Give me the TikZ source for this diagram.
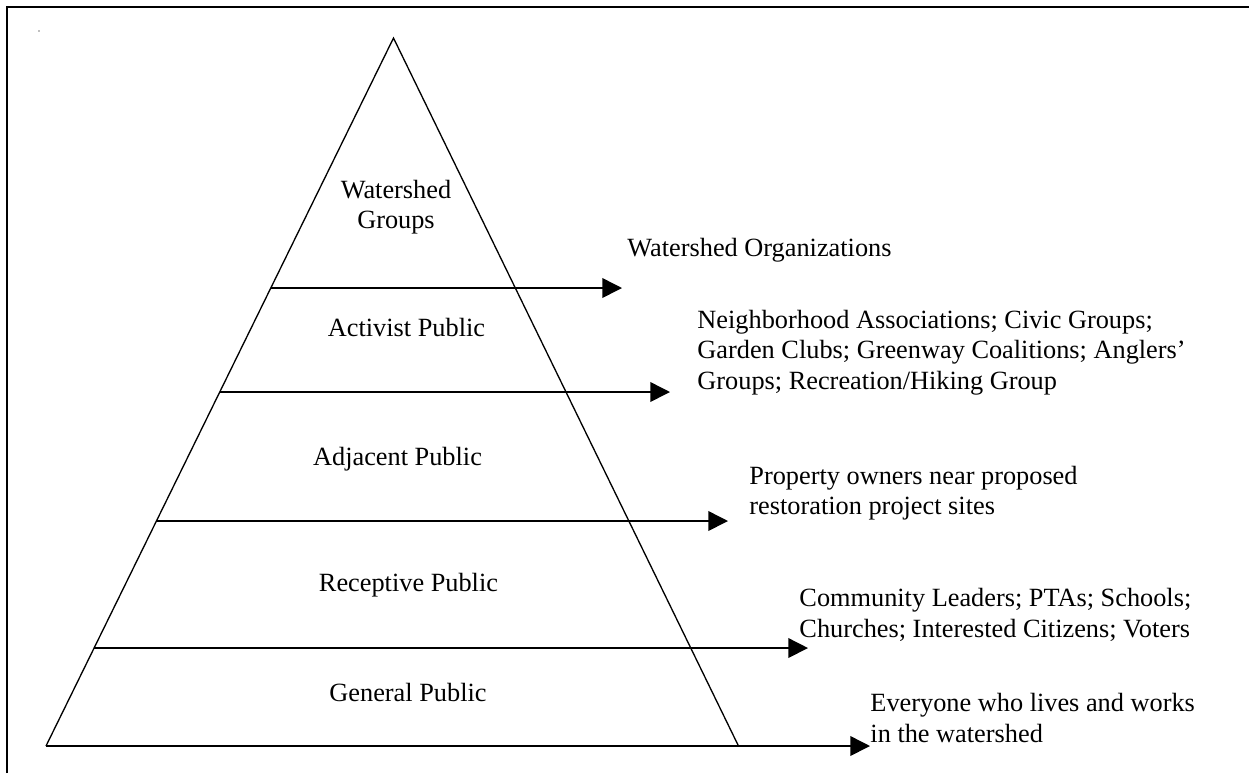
\documentclass[tikz,border=0pt]{standalone}
\usepackage{fontspec}
\setmainfont{Liberation Serif}
\usetikzlibrary{arrows.meta,calc}
\tikzset{
  level/.style={anchor=base,inner sep=0pt},
  group/.style={anchor=base west,inner sep=0pt},
  edge/.style={line width=0.6pt},
  feed/.style={line width=0.7pt,-{Triangle[length=9pt,width=9pt]}}
}
\begin{document}
\begin{tikzpicture}[x=0.456pt,y=-0.456pt,font=\fontsize{12}{13.9}\selectfont]
\useasboundingbox (0,0) rectangle (1249,773);
% frame
\draw[line width=0.9pt] (7,773) -- (7,7) -- (1249,7);
\fill[gray] (39,31) circle[radius=0.8];
% pyramid
\coordinate (apex) at (393.5,38);
\coordinate (bl) at (46,746);
\coordinate (br) at (738.5,746);
\draw[edge] (bl) -- (apex) -- (br);
\coordinate (s1) at ($(apex)!0.3531!(bl)$);
\coordinate (s2) at ($(apex)!0.5!(bl)$);
\coordinate (s3) at ($(apex)!0.6822!(bl)$);
\coordinate (s4) at ($(apex)!0.8616!(bl)$);
\coordinate (t1) at (622,288);
\coordinate (t2) at (670,392);
\coordinate (t3) at (728,521);
\coordinate (t4) at (808,648);
\coordinate (t5) at (870,746);
\draw[feed] (s1) -- (s1 -| t1);
\draw[feed] (s2) -- (s2 -| t2);
\draw[feed] (s3) -- (s3 -| t3);
\draw[feed] (s4) -- (s4 -| t4);
\draw[feed] (bl) -- (t5);
% levels
\node[level] (groups) at (396,198.5) {\begin{tabular}[t]{@{}c@{}}Watershed\\Groups\end{tabular}};
\node[level] (activist) at (406.5,336.7) {Activist Public};
\node[level] (adjacent) at (397.5,465) {Adjacent Public};
\node[level] (receptive) at (408.5,591.7) {Receptive Public};
\node[level] (general) at (408,701.7) {General Public};
% audiences
\node[group] (orgs) at (627,256.7) {Watershed Organizations};
\node[group] (assoc) at (697,328.3) {\begin{tabular}[t]{@{}l@{}}Neighborhood Associations; Civic Groups;\\Garden Clubs; Greenway Coalitions; Anglers'\\Groups; Recreation/Hiking Group\end{tabular}};
\node[group] (owners) at (749,484.5) {\begin{tabular}[t]{@{}l@{}}Property owners near proposed\\restoration project sites\end{tabular}};
\node[group] (leaders) at (799,606.7) {\begin{tabular}[t]{@{}l@{}}Community Leaders; PTAs; Schools;\\Churches; Interested Citizens; Voters\end{tabular}};
\node[group] (everyone) at (870,711.7) {\begin{tabular}[t]{@{}l@{}}Everyone who lives and works\\in the watershed\end{tabular}};
\end{tikzpicture}
\end{document}
